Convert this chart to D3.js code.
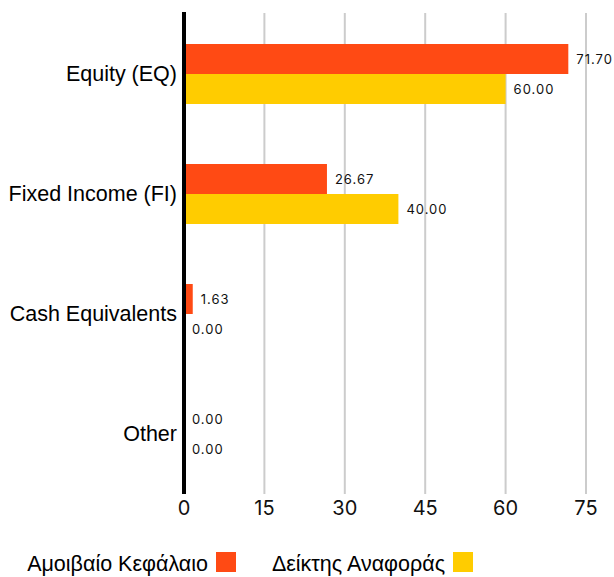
<!DOCTYPE html>
<html><head><meta charset="utf-8">
<script src="https://cdn.jsdelivr.net/npm/d3@7"></script>
<style>body{margin:0;background:#fff}svg{display:block}</style>
</head><body>
<svg id="c" width="614" height="577"></svg>
<script>
const categories = ["Equity (EQ)", "Fixed Income (FI)", "Cash Equivalents", "Other"];
const fundValues = [71.70, 26.67, 1.63, 0.00];
const benchValues = [60.00, 40.00, 0.00, 0.00];
const seriesNames = ["Αμοιβαίο Κεφάλαιο", "Δείκτης Αναφοράς"];
const xTicks = [0, 15, 30, 45, 60, 75];
const colors = ["#FF4A14", "#FFCC00"];

const svg = d3.select("#c");
const x = d3.scaleLinear().domain([0, 75]).range([184, 586]);
const y = d3.scaleBand().domain(categories).range([14, 494]).paddingInner(0.5).paddingOuter(0.25);
const sub = d3.scaleBand().domain([0, 1]).range([0, y.bandwidth()]);

// gridlines
svg.append("g").selectAll("line").data(xTicks.slice(1)).join("line")
  .attr("x1", d => x(d)).attr("x2", d => x(d))
  .attr("y1", 13).attr("y2", 494)
  .attr("stroke", "#cccccc").attr("stroke-width", 2);

// x tick labels
svg.append("g").selectAll("text").data(xTicks).join("text")
  .attr("x", d => x(d)).attr("y", 515)
  .attr("text-anchor", "middle")
  .attr("font-family", "Inter, 'Liberation Sans', sans-serif")
  .attr("font-size", 20).attr("fill", "#111")
  .text(d => d);

const rows = categories.map((c, i) => ({c, vals: [fundValues[i], benchValues[i]]}));
const g = svg.append("g");
rows.forEach(r => {
  r.vals.forEach((v, k) => {
    const yy = y(r.c) + sub(k);
    g.append("rect").attr("x", x(0)).attr("y", yy)
      .attr("width", x(v) - x(0)).attr("height", sub.bandwidth())
      .attr("fill", colors[k]);
    g.append("text").attr("x", x(v) + 8).attr("y", yy + sub.bandwidth() / 2 + 5)
      .attr("font-family", "Inter, 'Liberation Sans', sans-serif")
      .attr("font-size", 13).attr("letter-spacing", 1).attr("fill", "#111")
      .text(v.toFixed(2));
  });
});

// category labels
svg.append("g").selectAll("text").data(categories).join("text")
  .attr("x", 177).attr("y", d => y(d) + y.bandwidth() / 2 + 7)
  .attr("text-anchor", "end")
  .attr("font-family", "'Liberation Sans', Arial, sans-serif")
  .attr("font-size", 21.5).attr("fill", "#000")
  .text(d => d);

// y axis line
svg.append("line").attr("x1", 184).attr("x2", 184).attr("y1", 12).attr("y2", 494)
  .attr("stroke", "#000").attr("stroke-width", 4);

// legend
const sqX = [216, 453];
seriesNames.forEach((s, k) => {
  svg.append("text").attr("x", sqX[k] - 8).attr("y", 571)
    .attr("text-anchor", "end")
    .attr("font-family", "'Liberation Sans', Arial, sans-serif")
    .attr("font-size", 21.5).attr("fill", "#000").text(s);
  svg.append("rect").attr("x", sqX[k]).attr("y", 552)
    .attr("width", 20).attr("height", 20).attr("fill", colors[k]);
});
</script>
</body></html>
